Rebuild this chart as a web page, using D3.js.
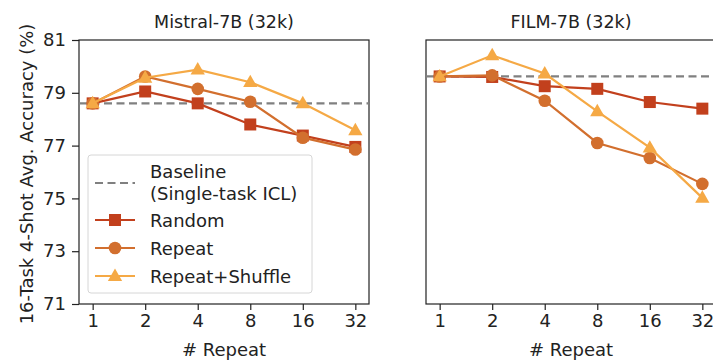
<!DOCTYPE html>
<html>
<head>
<meta charset="utf-8">
<script src="https://cdn.jsdelivr.net/npm/d3@7"></script>
<style>
  body { margin: 0; background: #fff; }
  svg { display: block; font-family: "DejaVu Sans", sans-serif; }
</style>
</head>
<body>
<div id="chart"></div>
<script>
// data
const repeats = [1, 2, 4, 8, 16, 32];
const yTicks = [71, 73, 75, 77, 79, 81];
const panelTitles = ['Mistral-7B (32k)', 'FILM-7B (32k)'];
const baselines = [78.6, 79.62];

const mistralRandom = [78.6, 79.05, 78.6, 77.8, 77.38, 76.95];
const mistralRepeat = [78.6, 79.62, 79.15, 78.66, 77.3, 76.85];
const mistralShuffle = [78.6, 79.57, 79.88, 79.4, 78.6, 77.58];

const filmRandom = [79.62, 79.6, 79.25, 79.15, 78.65, 78.4];
const filmRepeat = [79.62, 79.66, 78.7, 77.1, 76.53, 75.55];
const filmShuffle = [79.62, 80.42, 79.73, 78.3, 76.92, 75.02];

const seriesNames = ['Random', 'Repeat', 'Repeat+Shuffle'];
const seriesColors = ['#c2401d', '#d26f2e', '#f5a945'];
const seriesShapes = ['square', 'circle', 'triangle'];

const panels = [
  [mistralRandom, mistralRepeat, mistralShuffle],
  [filmRandom, filmRepeat, filmShuffle]
];

const W = 713, H = 361;
const plotTop = 40, plotBottom = 304, plotW = 290;
const lefts = [79, 426];
const fs = 18;

const svg = d3.select('#chart').append('svg')
  .attr('width', W).attr('height', H);

const y = d3.scaleLinear().domain([71, 81]).range([plotBottom, plotTop]);

function marker(g, shape, color, cx, cy) {
  if (shape === 'square') {
    g.append('rect').attr('x', cx - 6).attr('y', cy - 6)
      .attr('width', 12).attr('height', 12).attr('fill', color);
  } else if (shape === 'circle') {
    g.append('circle').attr('cx', cx).attr('cy', cy).attr('r', 6.3).attr('fill', color);
  } else {
    const s = 7.5;
    g.append('path')
      .attr('d', `M${cx},${cy - s} L${cx + s * 0.95},${cy + s * 0.65} L${cx - s * 0.95},${cy + s * 0.65} Z`)
      .attr('fill', color);
  }
}

panels.forEach((series, p) => {
  const x0 = lefts[p];
  const x = d3.scaleLog().base(2)
    .domain([Math.pow(2, -0.26), Math.pow(2, 5.26)])
    .range([x0, x0 + plotW]);

  const g = svg.append('g');

  // axes
  const xAxis = g.append('g')
    .attr('transform', `translate(0,${plotBottom})`)
    .call(d3.axisBottom(x).tickValues(repeats).tickFormat(d3.format('d')).tickSize(6).tickPadding(4));
  xAxis.select('.domain').remove();
  xAxis.selectAll('.tick line').attr('stroke', '#222').attr('stroke-width', 1.2);
  xAxis.selectAll('.tick text').attr('font-size', fs).attr('fill', '#222').attr('font-family', 'DejaVu Sans');

  if (p === 0) {
    const yAxis = g.append('g')
      .attr('transform', `translate(${x0},0)`)
      .call(d3.axisLeft(y).tickValues(yTicks).tickSize(7).tickPadding(6));
    yAxis.select('.domain').remove();
    yAxis.selectAll('.tick line').attr('stroke', '#222').attr('stroke-width', 1.2);
    yAxis.selectAll('.tick text').attr('font-size', fs).attr('fill', '#222').attr('font-family', 'DejaVu Sans');
  }

  // frame
  g.append('rect')
    .attr('x', x0).attr('y', plotTop).attr('width', plotW).attr('height', plotBottom - plotTop)
    .attr('fill', 'none').attr('stroke', '#222').attr('stroke-width', 1.2);

  // baseline
  g.append('line')
    .attr('x1', x0).attr('x2', x0 + plotW)
    .attr('y1', y(baselines[p])).attr('y2', y(baselines[p]))
    .attr('stroke', '#808080').attr('stroke-width', 2.2).attr('stroke-dasharray', '8,4.5');

  // series
  series.forEach((vals, i) => {
    const line = d3.line().x((d, j) => x(repeats[j])).y(d => y(d));
    g.append('path').datum(vals)
      .attr('d', line).attr('fill', 'none')
      .attr('stroke', seriesColors[i]).attr('stroke-width', 2.2);
    vals.forEach((v, j) => marker(g, seriesShapes[i], seriesColors[i], x(repeats[j]), y(v)));
  });

  // titles
  g.append('text')
    .attr('x', x0 + plotW / 2).attr('y', 28)
    .attr('text-anchor', 'middle').attr('font-size', 17.5).attr('fill', '#222')
    .text(panelTitles[p]);
  g.append('text')
    .attr('x', x0 + plotW / 2).attr('y', 356)
    .attr('text-anchor', 'middle').attr('font-size', fs).attr('fill', '#222')
    .text('# Repeat');
});

// y label
svg.append('text')
  .attr('transform', `translate(33,174) rotate(-90)`)
  .attr('text-anchor', 'middle').attr('font-size', fs).attr('fill', '#222')
  .text('16-Task 4-Shot Avg. Accuracy (%)');

// legend
const lg = svg.append('g');
lg.append('rect')
  .attr('x', 88).attr('y', 155).attr('width', 224).attr('height', 138)
  .attr('rx', 3).attr('fill', '#fff').attr('fill-opacity', 0.8)
  .attr('stroke', '#d6d6d6').attr('stroke-width', 1);

lg.append('line')
  .attr('x1', 95).attr('x2', 135).attr('y1', 183).attr('y2', 183)
  .attr('stroke', '#808080').attr('stroke-width', 2.2).attr('stroke-dasharray', '8,4.5');
lg.append('text').attr('x', 150).attr('y', 178).attr('font-size', fs).attr('fill', '#222').text('Baseline');
lg.append('text').attr('x', 150).attr('y', 200).attr('font-size', fs).attr('fill', '#222').text('(Single-task ICL)');

const legendY = [220, 248, 276];
seriesNames.forEach((name, i) => {
  lg.append('line')
    .attr('x1', 95).attr('x2', 135).attr('y1', legendY[i]).attr('y2', legendY[i])
    .attr('stroke', seriesColors[i]).attr('stroke-width', 2.2);
  marker(lg, seriesShapes[i], seriesColors[i], 115, legendY[i]);
  lg.append('text').attr('x', 150).attr('y', legendY[i] + 6.5)
    .attr('font-size', fs).attr('fill', '#222').text(name);
});
</script>
</body>
</html>
